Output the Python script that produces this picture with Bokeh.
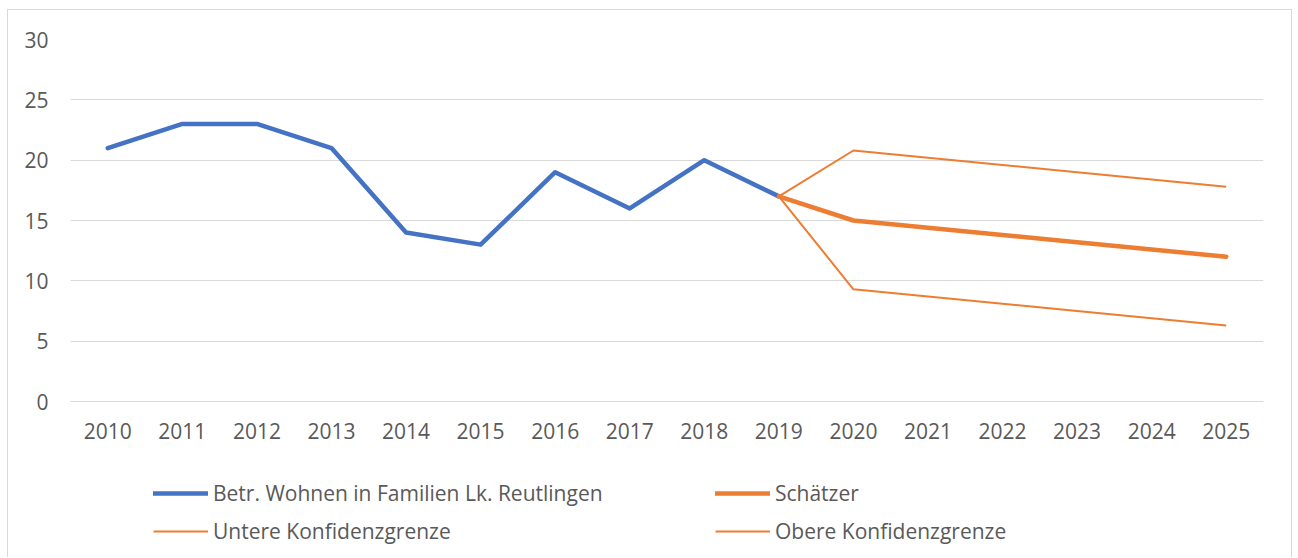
from bokeh.plotting import figure
from bokeh.models import FactorRange, Range1d, FixedTicker, Legend, LegendItem
from bokeh.embed import file_html
from bokeh.resources import INLINE

years = ["2010", "2011", "2012", "2013", "2014", "2015", "2016", "2017",
         "2018", "2019", "2020", "2021", "2022", "2023", "2024", "2025"]

hist_years = ["2010", "2011", "2012", "2013", "2014", "2015", "2016", "2017", "2018", "2019"]
hist_values = [21, 23, 23, 21, 14, 13, 19, 16, 20, 17]

fc_years = ["2019", "2020", "2021", "2022", "2023", "2024", "2025"]
schaetzer = [17, 15.0, 14.4, 13.8, 13.2, 12.6, 12.0]
untere = [17, 9.3, 8.7, 8.1, 7.5, 6.9, 6.3]
obere = [17, 20.8, 20.2, 19.6, 19.0, 18.4, 17.8]

y_ticks = [0, 5, 10, 15, 20, 25, 30]

BLUE = "#4472C4"
ORANGE = "#ED7D31"
TEXT = "#595959"
GRID = "#D9D9D9"
FONT = "Open Sans"

# frame spans from the top gridline down to the bottom of the canvas, so the
# legend sits inside the frame; value 0 is 362 px below value 30.
PX_PER_30 = 362.0
BELOW_ZERO_PX = 157.0
y_start = -BELOW_ZERO_PX * 30 / PX_PER_30

p = figure(
    x_range=FactorRange(factors=years, range_padding=0),
    y_range=Range1d(y_start, 30),
    width=1285, height=548,
    output_backend="svg", toolbar_location=None,
    min_border_left=62, min_border_right=30,
    min_border_top=29, min_border_bottom=0,
)
p.styles = {"margin-left": "7px", "margin-top": "9px",
            "border-left": "1px solid #D9D9D9", "border-right": "1px solid #D9D9D9",
            "border-top": "1px solid #D9D9D9"}
p.outline_line_color = None
p.xgrid.grid_line_color = None
p.ygrid.grid_line_color = GRID
p.ygrid.grid_line_width = 1
p.yaxis.ticker = FixedTicker(ticks=y_ticks)
p.xaxis.fixed_location = 0

for ax in (p.xaxis[0], p.yaxis[0]):
    ax.major_tick_line_color = None
    ax.minor_tick_line_color = None
    ax.major_tick_out = 0
    ax.major_tick_in = 0
    ax.major_label_text_font = FONT
    ax.major_label_text_font_size = "21px"
    ax.major_label_text_color = TEXT
p.yaxis.axis_line_color = None
p.xaxis.axis_line_color = GRID
p.xaxis.major_label_standoff = 21
p.yaxis.major_label_standoff = 22

r_hist = p.line(hist_years, hist_values, line_color=BLUE, line_width=4.5,
                line_join="round", line_cap="round")
r_fc = p.line(fc_years, schaetzer, line_color=ORANGE, line_width=4.5,
              line_join="round", line_cap="round")
r_lo = p.line(fc_years, untere, line_color=ORANGE, line_width=2)
r_hi = p.line(fc_years, obere, line_color=ORANGE, line_width=2)

def make_legend(items, x):
    return Legend(items=items, location=(x, 13), orientation="vertical",
                  padding=0, margin=0, spacing=10,
                  glyph_width=55, glyph_height=20, label_height=20,
                  label_standoff=5,
                  label_text_font=FONT, label_text_font_size="21px",
                  label_text_color=TEXT,
                  border_line_alpha=0, background_fill_alpha=0)

leg1 = make_legend([LegendItem(label="Betr. Wohnen in Familien Lk. Reutlingen", renderers=[r_hist]),
                    LegendItem(label="Untere Konfidenzgrenze", renderers=[r_lo])], 83)
leg2 = make_legend([LegendItem(label="Schätzer", renderers=[r_fc]),
                    LegendItem(label="Obere Konfidenzgrenze", renderers=[r_hi])], 645)
p.add_layout(leg1, "center")
p.add_layout(leg2, "center")

open("out.html", "w").write(file_html(p, INLINE))
